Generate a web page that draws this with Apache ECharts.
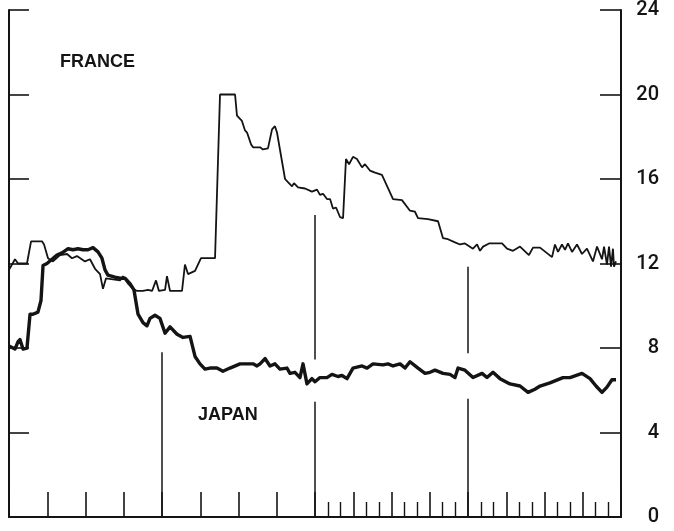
<!DOCTYPE html>
<html>
<head>
<meta charset="utf-8">
<script src="https://cdn.jsdelivr.net/npm/echarts@6/dist/echarts.min.js"></script>
<style>
html,body{margin:0;padding:0;background:#fff;}
#chart{width:674px;height:531px;}
</style>
</head>
<body>
<div id="chart"></div>
<script>
// x values: months from start of chart (4 panels of 12 months); y values: percent
var yTicks = [0, 4, 8, 12, 16, 20, 24];
var monthCategories = [];
for (var m = 0; m <= 48; m++) monthCategories.push(String(m));

var franceX = [0,0.47,0.71,1.41,1.73,2.04,2.59,2.75,3.06,3.45,4.0,4.55,4.94,5.33,5.96,6.35,6.75,7.14,7.37,7.61,8.16,8.71,8.94,9.33,9.73,10.04,10.51,10.9,11.22,11.53,11.76,12.24,12.39,12.63,13.57,13.8,14.04,14.59,15.06,16.16,16.55,17.73,17.88,18.27,18.51,18.67,18.98,19.14,19.69,19.92,20.31,20.63,20.86,21.02,21.65,21.88,22.2,22.35,22.67,23.22,23.76,24.16,24.39,24.63,24.94,25.18,25.41,25.65,25.96,26.2,26.43,26.67,26.98,27.29,27.69,27.92,28.31,28.71,29.25,30.12,30.82,31.45,31.84,32.08,32.86,33.65,34.04,34.43,34.98,35.37,35.76,36.39,36.71,36.94,37.18,37.65,38.67,39.06,39.53,40.08,40.78,41.1,41.65,42.59,42.82,43.06,43.37,43.61,43.84,44.16,44.55,44.94,45.33,45.8,46.12,46.51,46.67,46.9,47.06,47.22,47.37,47.45,47.61];
var franceY = [11.7,12.2,12.0,12.0,13.05,13.05,13.05,12.9,12.25,12.1,12.4,12.45,12.25,12.35,12.1,12.2,11.75,11.5,10.8,11.3,11.25,11.2,11.4,11.05,10.8,10.7,10.7,10.75,10.7,11.2,10.7,10.75,11.4,10.7,10.7,11.95,11.5,11.65,12.25,12.25,20.0,20.0,19.0,18.75,18.3,18.2,17.65,17.5,17.5,17.4,17.45,18.35,18.5,18.2,16.0,15.85,15.65,15.8,15.6,15.55,15.4,15.5,15.25,15.3,15.05,15.05,14.6,14.65,14.2,14.15,16.95,16.7,17.05,16.95,16.55,16.7,16.4,16.3,16.2,15.05,15.0,14.5,14.45,14.15,14.1,14.0,13.2,13.15,13.0,12.9,12.95,12.7,12.9,12.6,12.8,12.95,12.95,12.7,12.6,12.8,12.4,12.75,12.75,12.3,12.9,12.55,12.9,12.65,12.95,12.55,12.9,12.45,12.7,12.1,12.8,12.2,12.8,11.95,12.8,11.85,12.7,11.85,12.1];

var japanX = [0,0.47,0.71,0.86,1.1,1.41,1.65,1.88,2.27,2.51,2.67,2.98,3.37,3.76,4.16,4.39,4.63,5.02,5.41,5.8,6.2,6.59,6.98,7.29,7.53,7.76,8.31,8.71,9.1,9.49,9.8,10.12,10.51,10.82,11.06,11.45,11.84,12.24,12.63,13.18,13.65,14.2,14.59,14.98,15.37,15.76,16.31,16.78,17.33,18.12,18.75,19.14,19.45,19.69,20.08,20.47,20.86,21.25,21.8,22.04,22.43,22.82,23.06,23.37,23.76,24.0,24.39,24.94,25.33,25.8,26.12,26.51,26.98,27.69,28.08,28.55,29.33,29.73,30.12,30.67,31.06,31.45,32.08,32.63,33.02,33.41,34.04,34.59,34.98,35.22,35.76,36.39,37.1,37.49,37.96,38.51,39.29,40.08,40.71,41.25,41.65,42.43,43.45,44.0,44.94,45.57,46.04,46.51,46.9,47.29,47.61];
var japanY = [8.1,7.95,8.3,8.4,7.95,8.0,9.6,9.6,9.7,10.25,11.9,12.0,12.2,12.4,12.5,12.6,12.7,12.65,12.7,12.65,12.65,12.75,12.55,12.25,11.7,11.45,11.35,11.3,11.3,11.05,10.75,9.6,9.2,9.05,9.4,9.55,9.4,8.7,9.0,8.65,8.5,8.55,7.6,7.25,7.0,7.05,7.05,6.9,7.05,7.25,7.25,7.25,7.15,7.25,7.5,7.15,7.25,7.0,7.05,6.8,6.85,6.6,7.25,6.3,6.55,6.4,6.6,6.6,6.75,6.65,6.7,6.55,7.05,7.15,7.05,7.25,7.2,7.25,7.15,7.25,7.05,7.35,7.05,6.8,6.85,6.95,6.8,6.75,6.6,7.05,6.95,6.6,6.8,6.6,6.85,6.55,6.3,6.2,5.9,6.05,6.2,6.35,6.6,6.6,6.8,6.55,6.2,5.9,6.15,6.5,6.5];

// vertical panel dividers: [month, fromValue, toValue]
var dividerX = [12, 24, 24, 36, 36];
var dividerFrom = [0, 0, 7.45, 0, 7.75];
var dividerTo = [7.8, 5.45, 14.3, 5.6, 11.85];

var seriesLabels = ['FRANCE', 'JAPAN'];

function zip(xs, ys) {
  return xs.map(function (x, i) { return [x, ys[i]]; });
}

var INK = '#141414';
var series = [
  {
    name: seriesLabels[0], type: 'line', xAxisIndex: 0, yAxisIndex: 1,
    data: zip(franceX, franceY), symbol: 'none', silent: true,
    lineStyle: { color: INK, width: 1.8 }, z: 3
  },
  {
    name: seriesLabels[1], type: 'line', xAxisIndex: 0, yAxisIndex: 1,
    data: zip(japanX, japanY), symbol: 'none', silent: true,
    lineStyle: { color: INK, width: 3.4, join: 'round' }, z: 4
  }
];
dividerX.forEach(function (x, i) {
  series.push({
    type: 'line', xAxisIndex: 0, yAxisIndex: 1, symbol: 'none', silent: true,
    data: [[x, dividerFrom[i]], [x, dividerTo[i]]],
    lineStyle: { color: INK, width: 1.5 }, z: 2
  });
});

var chart = echarts.init(document.getElementById('chart'), null, { renderer: 'canvas' });
chart.setOption({
  animation: false,
  backgroundColor: '#ffffff',
  grid: { left: 9, right: 53, top: 7, bottom: 14, containLabel: false },
  xAxis: [
    {
      type: 'value', min: 0, max: 48, interval: 3,
      axisLine: { show: true, onZero: false, lineStyle: { color: INK, width: 2.2 } },
      axisTick: { show: true, inside: true, length: 25, lineStyle: { color: INK, width: 1.6 } },
      axisLabel: { show: false }, splitLine: { show: false }
    },
    {
      type: 'category', data: monthCategories, boundaryGap: false, position: 'bottom',
      axisLine: { show: false },
      axisTick: { show: true, inside: true, length: 15,
        interval: function (i) { return i > 24 && i < 48 && i % 3 !== 0; },
        lineStyle: { color: INK, width: 1.4 } },
      axisLabel: { show: false }, splitLine: { show: false }
    }
  ],
  yAxis: [
    {
      type: 'value', position: 'left', min: yTicks[0], max: yTicks[yTicks.length - 1], interval: 4,
      axisLine: { show: true, onZero: false, lineStyle: { color: INK, width: 2 } },
      axisTick: { show: true, inside: true, length: 20, lineStyle: { color: INK, width: 1.6 } },
      axisLabel: { show: false }, splitLine: { show: false }
    },
    {
      type: 'value', position: 'right', min: yTicks[0], max: yTicks[yTicks.length - 1], interval: 4,
      axisLine: { show: true, onZero: false, lineStyle: { color: INK, width: 2 } },
      axisTick: { show: true, inside: true, length: 21, lineStyle: { color: INK, width: 1.6 } },
      axisLabel: { show: true, margin: 38, align: 'right', color: INK,
        fontFamily: 'Roboto, "Liberation Sans", Arial, sans-serif', fontWeight: 500, fontSize: 20 },
      splitLine: { show: false }
    }
  ],
  graphic: [
    { type: 'text', left: 60, top: 53,
      style: { text: seriesLabels[0], fill: INK, font: 'bold 18px "Liberation Sans", Arial, sans-serif' } },
    { type: 'text', left: 198, top: 406,
      style: { text: seriesLabels[1], fill: INK, font: 'bold 18px "Liberation Sans", Arial, sans-serif' } }
  ],
  series: series
});
</script>
</body>
</html>
